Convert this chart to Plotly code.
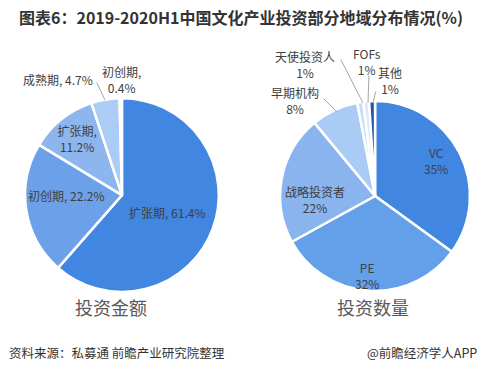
import plotly.graph_objects as go

# Left pie: investment amount
amt_labels = ["扩张期", "初创期", "扩张期", "成熟期", "初创期"]
amt_values = [61.4, 22.2, 11.2, 4.7, 0.4]
amt_colors = ["#4186E0", "#6CA0E8", "#8DB6EE", "#ABCCF4", "#C9DEF9"]

# Right pie: investment count
cnt_labels = ["VC", "PE", "战略投资者", "早期机构", "天使投资人", "FOFs", "其他"]
cnt_values = [35, 32, 22, 8, 1, 1, 1]
cnt_colors = ["#4186E0", "#64A0EA", "#8AB4EE", "#AACBF5", "#C6DCF8", "#DCEAFB", "#24549E"]

title_text = "图表6：2019-2020H1中国文化产业投资部分地域分布情况(%)"
sub_left = "投资金额"
sub_right = "投资数量"
source_text = "资料来源：私募通 前瞻产业研究院整理"
brand_text = "@前瞻经济学人APP"

FONT = "Noto Sans CJK SC"
TXT = "#404040"

amt_text = []
amt_pos = []
for i, (l, v) in enumerate(zip(amt_labels, amt_values)):
    if v >= 10:
        sep = "<br>" if v < 20 else " "
        amt_text.append(f"{l},{sep}{v:.1f}%")
        amt_pos.append("inside")
    else:
        amt_text.append("")
        amt_pos.append("none")

fig = go.Figure()
fig.add_trace(go.Pie(
    ids=[f"a{i}" for i in range(len(amt_values))],
    labels=[f"a{i}" for i in range(len(amt_values))],
    values=amt_values,
    text=amt_text, textinfo="text", textposition=amt_pos,
    insidetextorientation="horizontal",
    marker=dict(colors=amt_colors, line=dict(color="white", width=2.5)),
    sort=False, direction="clockwise", rotation=0,
    domain=dict(x=[0.052, 0.453], y=[0.217, 0.737]),
    textfont=dict(family=FONT, size=12, color=TXT),
    hoverinfo="skip", showlegend=False,
))
fig.add_trace(go.Pie(
    ids=[f"c{i}" for i in range(len(cnt_values))],
    labels=[f"c{i}" for i in range(len(cnt_values))],
    values=cnt_values,
    textinfo="none",
    marker=dict(colors=cnt_colors, line=dict(color="white", width=2.5)),
    sort=False, direction="clockwise", rotation=0,
    domain=dict(x=[0.580, 0.973], y=[0.220, 0.729]),
    hoverinfo="skip", showlegend=False,
))

W, H = 483, 373
def px(x, y):
    return x / W, 1 - y / H

annos = []
def label(text, tx, ty, lx0=None, ly0=None, lx1=None, ly1=None, size=12, color=TXT):
    x, y = px(tx, ty)
    annos.append(dict(x=x, y=y, xref="paper", yref="paper", text=text, showarrow=False,
                      xanchor="center", yanchor="middle",
                      font=dict(family=FONT, size=size, color=color), align="center"))
    if lx0 is not None:
        a1 = px(lx1, ly1)
        annos.append(dict(x=a1[0], y=a1[1], ax=lx0 - lx1, ay=ly0 - ly1, xref="paper", yref="paper",
                          axref="pixel", ayref="pixel", text="", showarrow=True,
                          arrowhead=0, arrowwidth=1, arrowcolor="#A6A6A6", standoff=0, startstandoff=0))

# outside labels, left
label(f"{amt_labels[3]}, {amt_values[3]}%", 58, 79, 96, 81, 105, 100)
label(f"{amt_labels[4]},<br>{amt_values[4]}%", 121, 79)
# right pie labels
label(f"{cnt_labels[0]}<br>{cnt_values[0]}%", 436, 160)
label(f"{cnt_labels[1]}<br>{cnt_values[1]}%", 367, 275)
label(f"{cnt_labels[2]}<br>{cnt_values[2]}%", 315, 199)
label(f"{cnt_labels[3]}<br>{cnt_values[3]}%", 295, 101, 322, 97, 337, 112)
label(f"{cnt_labels[4]}<br>{cnt_values[4]}%", 305, 64, 340, 58, 363, 103)
label(f"{cnt_labels[5]}<br>{cnt_values[5]}%", 367, 61, 369, 74, 368, 103)
label(f"{cnt_labels[6]}<br>{cnt_values[6]}%", 390, 80, 376, 90, 373, 103)

# titles
label(f"<b>{title_text}</b>", 241, 17, size=16, color="#333333")
label(sub_left, 111, 307, size=18, color="#595959")
label(sub_right, 373, 307, size=18, color="#595959")
annos.append(dict(x=px(7, 352)[0], y=px(7, 352)[1], xref="paper", yref="paper", text=source_text,
                  xanchor="left", yanchor="middle", showarrow=False,
                  font=dict(family=FONT, size=12.5, color="#333333")))
annos.append(dict(x=px(479, 352)[0], y=px(479, 352)[1], xref="paper", yref="paper", text=brand_text,
                  xanchor="right", yanchor="middle", showarrow=False,
                  font=dict(family=FONT, size=12.5, color="#333333")))

fig.update_layout(
    width=W, height=H, margin=dict(l=0, r=0, t=0, b=0),
    paper_bgcolor="white", plot_bgcolor="white",
    annotations=annos,
    uniformtext=dict(minsize=12, mode="show"),
)
fig.write_html("out.html", config={"displayModeBar": False},
               post_script="document.body.style.margin='0';document.body.style.overflow='hidden';")
